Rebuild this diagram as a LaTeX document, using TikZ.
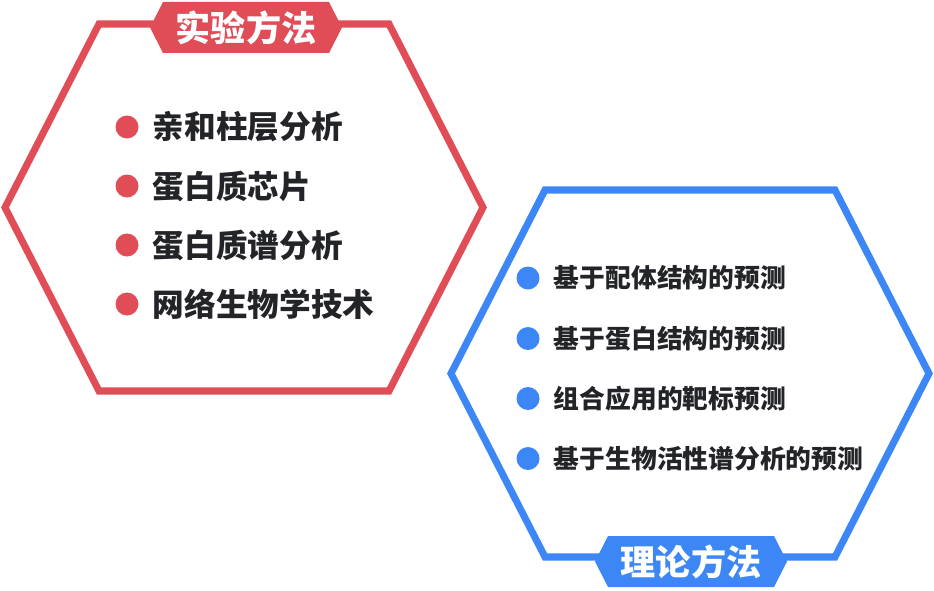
\documentclass[tikz,border=0pt]{standalone}
\usepackage{fontspec}
\newfontfamily\cjk{Noto Sans CJK SC}
\usetikzlibrary{positioning}
\definecolor{expred}{RGB}{224,77,87}
\definecolor{theoblue}{RGB}{60,135,245}
\definecolor{itemtext}{RGB}{35,36,40}

\begin{document}
\begin{tikzpicture}[
    x=0.03cm, y=-0.03cm,
    node distance=0.42cm,
    hexline/.style={line width=6pt},
    dotmark/.style={circle, minimum size=0.69cm, inner sep=0pt},
    itemA/.style={font=\cjk\bfseries\fontsize{27}{27}\selectfont, text=itemtext, inner sep=0pt},
    itemB/.style={font=\cjk\bfseries\fontsize{22}{22}\selectfont, text=itemtext, inner sep=0pt},
    tagtext/.style={font=\cjk\bfseries\fontsize{30}{30}\selectfont, text=white, inner sep=0pt}
]
\useasboundingbox (0,0) rectangle (934,590);

% experimental methods
\draw[hexline, expred] (5,207.5) -- (99,24) -- (389,24) -- (483,207.5) -- (389,391) -- (99,391) -- cycle;
\fill[expred] (150,27.5) -- (163,2) -- (329,2) -- (342,27.5) -- (329,53) -- (163,53) -- cycle;
\node[tagtext] (tagA) at (246,27.5) {实验方法};

\node[dotmark, fill=expred] (a1) at (127,127) {};
\node[dotmark, fill=expred] (a2) at (127,186) {};
\node[dotmark, fill=expred] (a3) at (127,245) {};
\node[dotmark, fill=expred] (a4) at (127,304) {};
\node[itemA, right=of a1] (ta1) {亲和柱层分析};
\node[itemA, right=of a2] (ta2) {蛋白质芯片};
\node[itemA, right=of a3] (ta3) {蛋白质谱分析};
\node[itemA, right=of a4] (ta4) {网络生物学技术};

% theoretical methods
\draw[hexline, theoblue] (451,373.5) -- (545,190) -- (835,190) -- (929,373.5) -- (835,557) -- (545,557) -- cycle;
\fill[theoblue] (595,561.5) -- (608,536) -- (774,536) -- (787,561.5) -- (774,587) -- (608,587) -- cycle;
\node[tagtext] (tagB) at (691,561.5) {理论方法};

\node[dotmark, fill=theoblue] (b1) at (528,278) {};
\node[dotmark, fill=theoblue] (b2) at (528,338.5) {};
\node[dotmark, fill=theoblue] (b3) at (528,398.5) {};
\node[dotmark, fill=theoblue] (b4) at (528,458.5) {};
\node[itemB, right=of b1] (tb1) {基于配体结构的预测};
\node[itemB, right=of b2] (tb2) {基于蛋白结构的预测};
\node[itemB, right=of b3] (tb3) {组合应用的靶标预测};
\node[itemB, right=of b4] (tb4) {基于生物活性谱分析的预测};

\end{tikzpicture}
\end{document}
